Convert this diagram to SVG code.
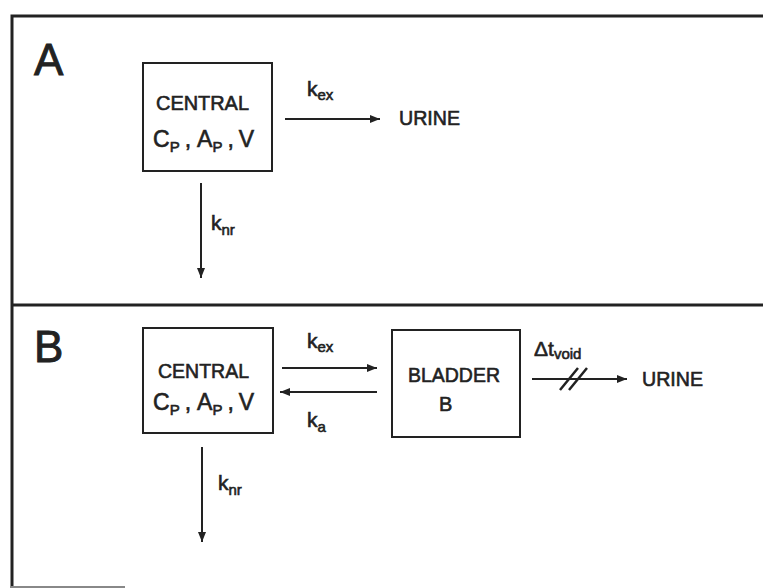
<svg xmlns="http://www.w3.org/2000/svg" width="763" height="588" viewBox="0 0 763 588">
<defs>
<marker id="ah" viewBox="0 0 10 8" refX="10" refY="4" markerWidth="10" markerHeight="8" markerUnits="userSpaceOnUse" orient="auto">
<path d="M0,0 L10,4 L0,8 Z" fill="#222"/>
</marker>
</defs>
<style>
text{font-family:"Liberation Sans",Arial,sans-serif;fill:#222;stroke:#222;stroke-width:0.6}
.frame{stroke:#222;stroke-width:3;fill:none}
.box{stroke:#222;stroke-width:2;fill:none}
.arr{stroke:#222;stroke-width:2;fill:none;marker-end:url(#ah)}
.big{font-size:44px;stroke-width:0.9}
.lbl{font-size:20px}
.sub{font-size:15px}
.k{font-size:21px}
.ks{font-size:15px}
</style>
<rect width="763" height="588" fill="#fff"/>
<g id="frame">
<path class="frame" d="M12,588 L12,16 L763,16"/>
<path class="frame" d="M12,305 L763,305"/>
<path d="M10,587 L125,587" stroke="#888" stroke-width="2"/>
<text class="big" x="34" y="75">A</text>
<text class="big" x="34" y="362">B</text>
</g>
<g id="centralA">
<rect class="box" x="143" y="63" width="129" height="108"/>
<text class="lbl" x="156" y="110" textLength="93" lengthAdjust="spacingAndGlyphs">CENTRAL</text>
<text x="153" y="147" font-size="23">C<tspan class="sub" dy="5">P</tspan><tspan dy="-5" dx="5">,</tspan><tspan dx="6">A</tspan><tspan class="sub" dy="5">P</tspan><tspan dy="-5" dx="5">,</tspan><tspan dx="5">V</tspan></text>
</g>
<g id="urineA">
<text class="lbl" x="399" y="125" textLength="61" lengthAdjust="spacingAndGlyphs">URINE</text>
</g>
<g id="centralB">
<rect class="box" x="143" y="328" width="130" height="105"/>
<text class="lbl" x="158" y="378" textLength="91" lengthAdjust="spacingAndGlyphs">CENTRAL</text>
<text x="153" y="410" font-size="23">C<tspan class="sub" dy="5">P</tspan><tspan dy="-5" dx="5">,</tspan><tspan dx="6">A</tspan><tspan class="sub" dy="5">P</tspan><tspan dy="-5" dx="5">,</tspan><tspan dx="5">V</tspan></text>
</g>
<g id="bladder">
<rect class="box" x="392" y="330" width="128" height="107"/>
<text class="lbl" x="408" y="382" textLength="92" lengthAdjust="spacingAndGlyphs">BLADDER</text>
<text class="lbl" x="439" y="411">B</text>
</g>
<g id="urineB">
<text class="lbl" x="642" y="386" textLength="61" lengthAdjust="spacingAndGlyphs">URINE</text>
</g>
<g id="connectors">
<line class="arr" x1="285" y1="119" x2="380" y2="119"/>
<text class="k" x="307" y="96">k<tspan class="ks" dy="4">ex</tspan></text>
<line class="arr" x1="201" y1="183" x2="201" y2="278"/>
<text class="k" x="211" y="230">k<tspan class="ks" dy="5">nr</tspan></text>
<line class="arr" x1="282" y1="368" x2="377" y2="368"/>
<text class="k" x="307" y="348">k<tspan class="ks" dy="4">ex</tspan></text>
<line class="arr" x1="377" y1="392" x2="280" y2="392"/>
<text class="k" x="307" y="427">k<tspan class="ks" dy="5">a</tspan></text>
<line class="arr" x1="532" y1="379" x2="627" y2="379"/>
<path d="M560,390 L578,368 M569,390 L587,368" stroke="#222" stroke-width="2.5" fill="none"/>
<text class="k" x="534" y="356">Δt<tspan class="ks" dy="3">void</tspan></text>
<line class="arr" x1="202" y1="447" x2="202" y2="542"/>
<text class="k" x="218" y="490">k<tspan class="ks" dy="5">nr</tspan></text>
</g>
</svg>
